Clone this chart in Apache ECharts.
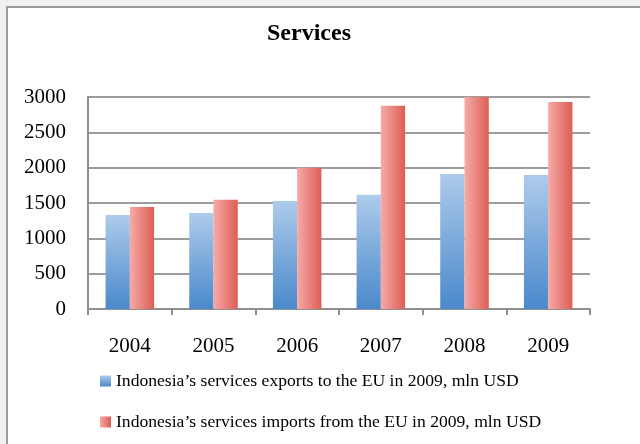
<!DOCTYPE html>
<html>
<head>
<meta charset="utf-8">
<script src="https://cdn.jsdelivr.net/npm/echarts@6/dist/echarts.min.js"></script>
<style>
  html, body { margin: 0; padding: 0; background: #f0f0f0; }
  #chart { width: 640px; height: 444px; }
</style>
</head>
<body>
<div id="chart"></div>
<script>
// Indonesia – EU trade in services, mln USD
const years = ['2004', '2005', '2006', '2007', '2008', '2009'];
const exportsToEU = [1330, 1360, 1530, 1615, 1910, 1895];
const importsFromEU = [1445, 1545, 2000, 2875, 3000, 2930];
const yTicks = { min: 0, max: 3000, step: 500 };

const exportName = 'Indonesia\u2019s services exports to the EU in 2009, mln USD';
const importName = 'Indonesia\u2019s services imports from the EU in 2009, mln USD';

const blueFill = new echarts.graphic.LinearGradient(0, 0, 0, 1, [
  { offset: 0, color: '#aecbeb' },
  { offset: 1, color: '#4a89cb' }
]);
const redFill = new echarts.graphic.LinearGradient(0, 0, 1, 0, [
  { offset: 0, color: '#f6aaa7' },
  { offset: 1, color: '#dc5e55' }
]);

const serif = '"Liberation Serif", "DejaVu Serif", serif';

const chart = echarts.init(document.getElementById('chart'), null, { renderer: 'canvas' });
chart.setOption({
  backgroundColor: '#f0f0f0',
  animation: false,
  graphic: [{
    type: 'rect',
    z: -10,
    silent: true,
    shape: { x: 7, y: 7, width: 700, height: 500 },
    style: { fill: '#ffffff', stroke: '#9a9a9a', lineWidth: 2 }
  }],
  title: {
    text: 'Services',
    left: 262,
    top: 17,
    textStyle: { fontFamily: serif, fontWeight: 'bold', fontSize: 24, color: '#000' }
  },
  legend: {
    orient: 'vertical',
    left: 100,
    top: 372,
    padding: 0,
    itemWidth: 11,
    itemHeight: 11,
    itemGap: 23,
    icon: 'rect',
    textStyle: { fontFamily: serif, fontSize: 17.6, color: '#000', lineHeight: 18 },
    data: [exportName, importName]
  },
  grid: { left: 88, right: 50, top: 97, bottom: 135 },
  xAxis: {
    type: 'category',
    data: years,
    axisLine: { lineStyle: { color: '#8f8f8f', width: 2 } },
    axisTick: { show: true, length: 6, lineStyle: { color: '#8f8f8f', width: 2 } },
    axisLabel: { fontFamily: serif, fontSize: 21, color: '#000', margin: 27 }
  },
  yAxis: {
    type: 'value',
    min: yTicks.min,
    max: yTicks.max,
    interval: yTicks.step,
    axisLine: { show: true, lineStyle: { color: '#8f8f8f', width: 2 } },
    axisTick: { show: false },
    axisLabel: {
      fontFamily: serif, fontSize: 21, color: '#000', margin: 22,
      formatter: (v) => String(v)
    },
    splitLine: { lineStyle: { color: '#9c9c9c', width: 2 } }
  },
  series: [
    {
      name: exportName,
      type: 'bar',
      data: exportsToEU,
      barWidth: '29%',
      barGap: '0%',
      itemStyle: { color: blueFill }
    },
    {
      name: importName,
      type: 'bar',
      data: importsFromEU,
      barWidth: '29%',
      itemStyle: { color: redFill }
    }
  ]
});
</script>
</body>
</html>
